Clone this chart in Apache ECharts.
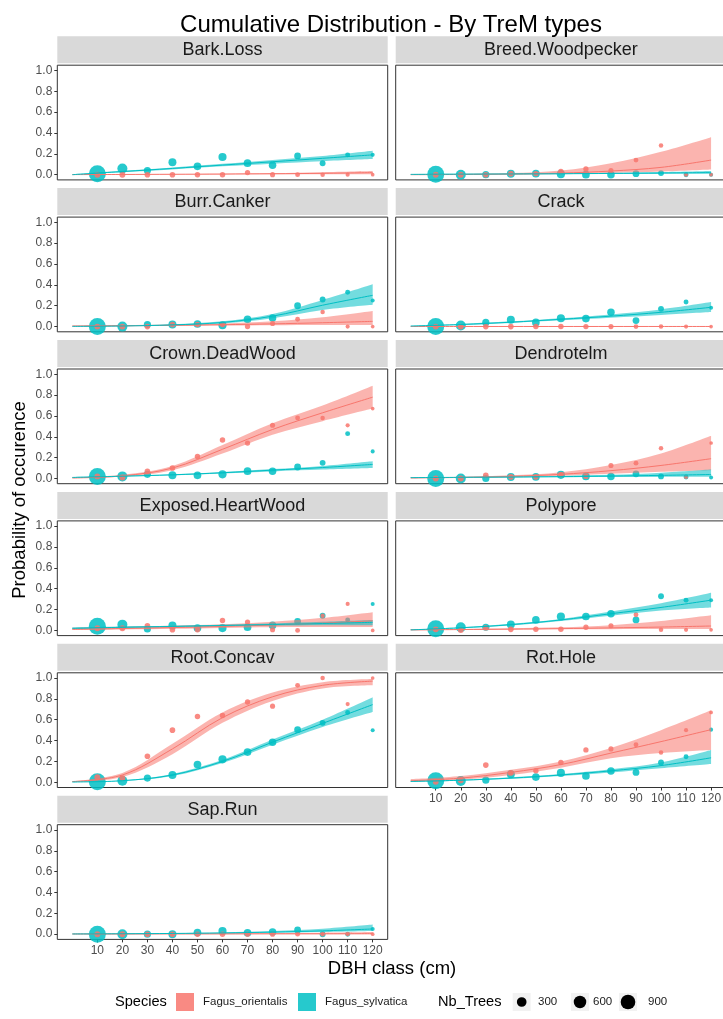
<!DOCTYPE html>
<html><head><meta charset="utf-8">
<script src="https://cdn.jsdelivr.net/npm/echarts@6/dist/echarts.min.js"></script>
<style>html,body{margin:0;padding:0;background:#fff}#c{width:723px;height:1019px}</style>
</head><body><div id="c"></div>
<script>
const panels = ['Bark.Loss','Breed.Woodpecker','Burr.Canker','Crack','Crown.DeadWood','Dendrotelm','Exposed.HeartWood','Polypore','Root.Concav','Rot.Hole','Sap.Run'];
const dbh = [10,20,30,40,50,60,70,80,90,100,110,120];
const fitX = [0,20,40,60,80,100,120];
const yTicks = [0,0.2,0.4,0.6,0.8,1.0];
const species = ['Fagus_orientalis','Fagus_sylvatica'];
const sizeLegend = [300,600,900];
const nbOri = [60,60,50,50,45,45,40,35,28,20,14,8];
const nbSyl = [1300,330,120,170,150,180,150,140,100,60,30,12];

const ptsOri = [
 [0,0,0,0,0,0,0.02,0,0,0,0,0],
 [0,0,0,0.01,0.01,0.03,0.055,0.04,0.14,0.28,0,0],
 [0,0,0,0.02,0.02,0.02,0,0.03,0.07,0.14,0,0],
 [0,0,0,0,0,0,0,0,0,0,0,0],
 [0.02,0.01,0.07,0.1,0.21,0.37,0.34,0.51,0.58,0.58,0.51,0.67],
 [0,0,0.03,0.015,0.015,0.035,0.02,0.125,0.147,0.29,0.015,0.34],
 [0.02,0.02,0.045,0.006,0.006,0.095,0.08,0.006,0,0.14,0.254,0],
 [0.01,0.003,0.025,0.01,0.01,0.01,0.03,0.045,0.15,0.005,0.005,0.005],
 [0.048,0.04,0.25,0.5,0.63,0.64,0.77,0.73,0.93,1.0,0.75,1.0],
 [0.005,0.02,0.165,0.09,0.11,0.19,0.31,0.32,0.36,0.285,0.5,0.67],
 [0,0,0,0,0,0,0,0,0,0,0,0]
];
const ptsSyl = [
 [0.01,0.06,0.04,0.12,0.08,0.17,0.11,0.09,0.18,0.11,0.19,0.19],
 [0.005,0,0,0.01,0.01,0.005,0,0,0.01,0.015,0,0],
 [0,0,0.02,0.02,0.025,0.013,0.07,0.083,0.2,0.26,0.33,0.25],
 [0,0.01,0.04,0.065,0.04,0.08,0.077,0.137,0.058,0.17,0.236,0.18],
 [0.02,0.02,0.04,0.03,0.03,0.04,0.07,0.07,0.11,0.15,0.43,0.26],
 [0,0,0,0.015,0.015,0.035,0.02,0.02,0.045,0.02,0.015,0.01],
 [0.04,0.055,0.013,0.048,0.022,0.022,0.03,0.048,0.086,0.14,0.1,0.254],
 [0.015,0.03,0.03,0.057,0.1,0.133,0.133,0.16,0.1,0.327,0.29,0.29],
 [0.005,0.015,0.04,0.07,0.17,0.22,0.29,0.385,0.505,0.57,0.67,0.5],
 [0.015,0.013,0.02,0.076,0.05,0.09,0.06,0.108,0.095,0.19,0.245,0.505],
 [0,0,0,0,0.015,0.03,0.013,0.02,0.04,0,0,0.05]
];
const fitOri = [
 [0.001,0.002,0.004,0.006,0.009,0.013,0.02],
 [0.0,0.002,0.006,0.015,0.035,0.07,0.14],
 [0.005,0.008,0.012,0.018,0.026,0.037,0.05],
 [0.001,0.001,0.001,0.001,0.001,0.001,0.001],
 [0.005,0.025,0.1,0.28,0.47,0.63,0.78],
 [0.005,0.01,0.02,0.04,0.075,0.125,0.19],
 [0.01,0.018,0.027,0.038,0.052,0.07,0.092],
 [0.005,0.008,0.012,0.017,0.024,0.032,0.042],
 [0.007,0.07,0.32,0.62,0.82,0.93,0.97],
 [0.015,0.04,0.095,0.17,0.28,0.39,0.505],
 [0.002,0.002,0.003,0.003,0.004,0.004,0.005]
];
const loOri = [
 [0,0,0.001,0.002,0.003,0.004,0.005],
 [0,0,0.002,0.007,0.017,0.03,0.05],
 [0.002,0.004,0.007,0.01,0.013,0.015,0.015],
 [0,0,0,0,0,0,0],
 [0.002,0.018,0.08,0.24,0.42,0.55,0.67],
 [0.002,0.006,0.013,0.027,0.045,0.065,0.08],
 [0.003,0.008,0.015,0.024,0.03,0.032,0.033],
 [0.002,0.004,0.007,0.01,0.012,0.013,0.013],
 [0.003,0.05,0.27,0.57,0.78,0.9,0.93],
 [0.006,0.025,0.07,0.14,0.23,0.28,0.31],
 [0,0,0,0,0,0,0]
];
const hiOri = [
 [0.002,0.004,0.007,0.01,0.016,0.024,0.035],
 [0.002,0.006,0.015,0.04,0.11,0.22,0.36],
 [0.01,0.015,0.02,0.03,0.05,0.09,0.15],
 [0.004,0.004,0.004,0.004,0.004,0.004,0.004],
 [0.01,0.035,0.12,0.32,0.53,0.7,0.89],
 [0.01,0.016,0.03,0.06,0.13,0.24,0.41],
 [0.025,0.035,0.045,0.058,0.083,0.12,0.175],
 [0.01,0.014,0.02,0.03,0.05,0.09,0.145],
 [0.012,0.09,0.37,0.67,0.86,0.96,0.99],
 [0.03,0.06,0.12,0.2,0.33,0.5,0.69],
 [0.005,0.005,0.006,0.008,0.01,0.014,0.02]
];
const fitSyl = [
 [0.0,0.03,0.06,0.092,0.124,0.157,0.19],
 [0.003,0.005,0.007,0.009,0.012,0.016,0.02],
 [0.002,0.006,0.016,0.04,0.1,0.205,0.3],
 [0.005,0.02,0.042,0.07,0.1,0.137,0.185],
 [0.01,0.022,0.035,0.055,0.08,0.105,0.135],
 [0.008,0.011,0.014,0.018,0.023,0.03,0.038],
 [0.02,0.03,0.038,0.047,0.056,0.066,0.077],
 [0.005,0.025,0.055,0.1,0.16,0.22,0.29],
 [0.003,0.015,0.07,0.2,0.385,0.565,0.745],
 [0.008,0.02,0.04,0.07,0.11,0.16,0.235],
 [0.002,0.004,0.007,0.012,0.02,0.032,0.05]
];
const loSyl = [
 [0.0,0.024,0.05,0.08,0.106,0.13,0.15],
 [0.001,0.002,0.004,0.005,0.006,0.007,0.008],
 [0.001,0.004,0.011,0.03,0.08,0.16,0.21],
 [0.003,0.015,0.035,0.06,0.085,0.112,0.14],
 [0.007,0.018,0.03,0.048,0.068,0.085,0.1],
 [0.004,0.007,0.01,0.012,0.014,0.015,0.016],
 [0.012,0.023,0.032,0.04,0.046,0.05,0.05],
 [0.003,0.02,0.047,0.09,0.14,0.19,0.22],
 [0.001,0.012,0.06,0.185,0.36,0.53,0.673],
 [0.005,0.015,0.033,0.06,0.095,0.135,0.175],
 [0.001,0.002,0.004,0.008,0.013,0.02,0.03]
];
const hiSyl = [
 [0.004,0.037,0.07,0.104,0.142,0.18,0.23],
 [0.006,0.008,0.01,0.013,0.018,0.026,0.036],
 [0.004,0.009,0.022,0.05,0.12,0.255,0.405],
 [0.008,0.026,0.05,0.08,0.117,0.165,0.235],
 [0.014,0.026,0.04,0.062,0.09,0.12,0.165],
 [0.012,0.015,0.019,0.025,0.035,0.055,0.085],
 [0.028,0.037,0.045,0.055,0.067,0.083,0.1],
 [0.008,0.03,0.063,0.11,0.18,0.26,0.36],
 [0.005,0.019,0.08,0.215,0.41,0.6,0.816],
 [0.012,0.025,0.048,0.08,0.125,0.19,0.31],
 [0.004,0.006,0.011,0.017,0.03,0.052,0.092]
];

const RED = '#F8766D', TEAL = '#00BFC4';
const FONT = '"Liberation Sans", Arial, Helvetica, sans-serif';
function sizeFn(n){ return 3 + 14*Math.sqrt(Math.max(0,n-5)/1295); }

const colLeft = [57.3, 395.7], PW = 330.4, T0 = 65.2, PITCH = 151.9, PH = 114.7;
const grids=[], xAxes=[], yAxes=[], series=[], graphics=[];

panels.forEach((name,i)=>{
  const col=i%2, row=Math.floor(i/2);
  const left=colLeft[col], top=T0+PITCH*row;
  grids.push({left:left, top:top, width:PW, height:PH, show:true, borderColor:'#333333', borderWidth:1, backgroundColor:'#fff', outerBoundsMode:'none', containLabel:false});
  const showX = (i===9 || i===10), showY = (col===0);
  xAxes.push({gridIndex:i, type:'value', min:-6, max:126, position:'bottom',
    axisLine:{show:false, onZero:false}, splitLine:{show:false},
    axisTick:{show:showX, customValues:dbh, length:3, lineStyle:{color:'#333'}},
    axisLabel:{show:showX, customValues:dbh, color:'#4D4D4D', fontSize:12, fontFamily:FONT, margin:5}});
  yAxes.push({gridIndex:i, type:'value', min:-0.05, max:1.05, position:'left',
    axisLine:{show:false, onZero:false}, splitLine:{show:false},
    axisTick:{show:showY, customValues:yTicks, length:3, lineStyle:{color:'#333'}},
    axisLabel:{show:showY, customValues:yTicks, formatter:v=>v.toFixed(1), color:'#4D4D4D', fontSize:12, fontFamily:FONT, margin:5}});
  // strip
  graphics.push({type:'rect', silent:true, shape:{x:left, y:top-29, width:PW, height:27}, style:{fill:'#D9D9D9'}});
  graphics.push({type:'text', silent:true, x:left+PW/2, y:top-15, style:{text:name, fill:'#1A1A1A', font:'18px '+FONT, align:'center', verticalAlign:'middle'}});

  const ax = {xAxisIndex:i, yAxisIndex:i};
  series.push(Object.assign({type:'scatter', data:dbh.map((x,k)=>[x, ptsSyl[i][k], nbSyl[k]]), symbolSize:d=>sizeFn(d[2]), itemStyle:{color:TEAL, opacity:0.85}, silent:true, clip:true}, ax));
  series.push(Object.assign({type:'scatter', data:dbh.map((x,k)=>[x, ptsOri[i][k], nbOri[k]]), symbolSize:d=>sizeFn(d[2]), itemStyle:{color:RED, opacity:0.85}, silent:true, clip:true}, ax));
  [[fitOri,loOri,hiOri,RED,'r'],[fitSyl,loSyl,hiSyl,TEAL,'t']].forEach(([f,lo,hi,c,s])=>{
    // value column first so that the stack applies to the y value
    series.push(Object.assign({type:'line', stack:s+i, dimensions:['v','x'], encode:{x:1, y:0}, data:fitX.map((x,k)=>[lo[i][k], x]), symbol:'none', smooth:0.35, lineStyle:{opacity:0}, silent:true}, ax));
    series.push(Object.assign({type:'line', stack:s+i, dimensions:['v','x'], encode:{x:1, y:0}, data:fitX.map((x,k)=>[hi[i][k]-lo[i][k], x]), symbol:'none', smooth:0.35, lineStyle:{opacity:0}, areaStyle:{color:c, opacity:0.55}, silent:true}, ax));
    series.push(Object.assign({type:'line', data:fitX.map((x,k)=>[x, f[i][k]]), symbol:'none', smooth:0.35, lineStyle:{color:c, width:1}, silent:true}, ax));
  });
});

// titles
graphics.push({type:'text', silent:true, x:391, y:25, style:{text:'Cumulative Distribution - By TreM types', fill:'#000', font:'24px '+FONT, align:'center', verticalAlign:'middle'}});
graphics.push({type:'text', silent:true, x:392, y:969, style:{text:'DBH class (cm)', fill:'#000', font:'18.5px '+FONT, align:'center', verticalAlign:'middle'}});
graphics.push({type:'text', silent:true, x:20, y:500, rotation:Math.PI/2, style:{text:'Probability of occurence', fill:'#000', font:'18.5px '+FONT, align:'center', verticalAlign:'middle'}});

// legend
const LY = 1002;
graphics.push({type:'text', silent:true, x:115, y:LY, style:{text:'Species', fill:'#000', font:'14.6px '+FONT, align:'left', verticalAlign:'middle'}});
const swX = [176, 298], lblX = [203, 325], swC = [RED, TEAL];
species.forEach((s,k)=>{
  graphics.push({type:'rect', silent:true, shape:{x:swX[k], y:LY-9, width:18, height:18}, style:{fill:swC[k], opacity:0.85}});
  graphics.push({type:'text', silent:true, x:lblX[k], y:LY, style:{text:s, fill:'#1A1A1A', font:'11.5px '+FONT, align:'left', verticalAlign:'middle'}});
});
graphics.push({type:'text', silent:true, x:438, y:LY, style:{text:'Nb_Trees', fill:'#000', font:'14.6px '+FONT, align:'left', verticalAlign:'middle'}});
const dotX = [521.7, 580, 628], dotLbl = [538, 593, 648];
sizeLegend.forEach((n,k)=>{
  graphics.push({type:'rect', silent:true, shape:{x:dotX[k]-9, y:LY-9, width:18, height:18}, style:{fill:'#F2F2F2'}});
  graphics.push({type:'circle', silent:true, shape:{cx:dotX[k], cy:LY, r:sizeFn(n)/2}, style:{fill:'#000'}});
  graphics.push({type:'text', silent:true, x:dotLbl[k], y:LY, style:{text:String(n), fill:'#1A1A1A', font:'11.5px '+FONT, align:'left', verticalAlign:'middle'}});
});

const chart = echarts.init(document.getElementById('c'));
chart.setOption({animation:false, grid:grids, xAxis:xAxes, yAxis:yAxes, series:series, graphic:graphics});
</script></body></html>
